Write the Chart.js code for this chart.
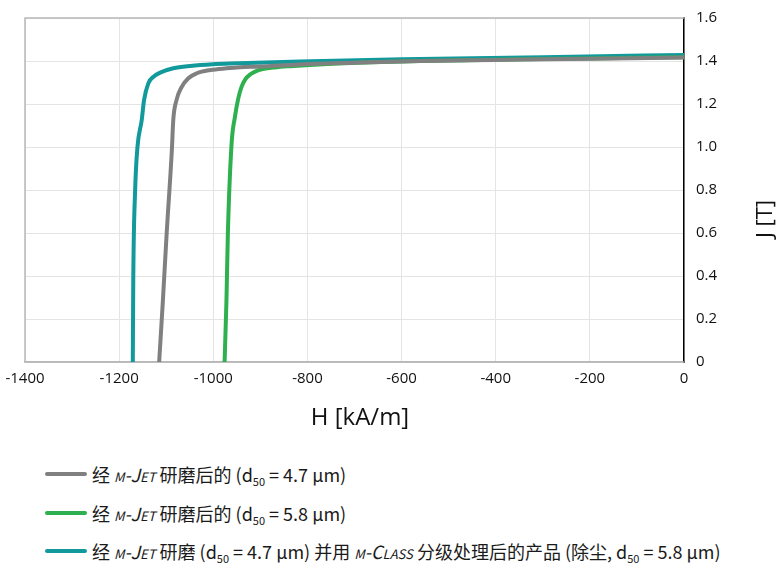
<!DOCTYPE html>
<html>
<head>
<meta charset="utf-8">
<script src="https://cdn.jsdelivr.net/npm/chart.js@4.4.1/dist/chart.umd.min.js"></script>
<style>
  html, body { margin: 0; padding: 0; background: #fff; }
  body { width: 779px; height: 564px; position: relative; overflow: hidden; }
  #wrap { position: absolute; left: 0; top: 0; width: 779px; height: 440px; }
  .leg { position: absolute; left: 45px; height: 24px; display: flex; align-items: center;
         font-family: "Noto Sans CJK SC", "Noto Sans", sans-serif; font-size: 18px; color: #1a1a1a; white-space: nowrap; }
  .sw { width: 42px; height: 4px; border-radius: 2px; margin-right: 5px; }
  .sc { font-style: italic; font-variant: small-caps; }
  sub { font-size: 11px; vertical-align: -4px; line-height: 0; }
</style>
</head>
<body>
<div id="wrap"><canvas id="c"></canvas></div>
<div id="legend"></div>
<script>
// ---- data (H in kA/m, J in T) ----
const xTicks = [-1400, -1200, -1000, -800, -600, -400, -200, 0];
const yTicks = [0, 0.2, 0.4, 0.6, 0.8, 1.0, 1.2, 1.4, 1.6];

const grayH = [-1115, -1107, -1099, -1088, -1085, -1078, -1067, -1053, -1035, -1006, -972, -943, -901, -816, -700, -561, -400, -200, 0];
const grayJ = [0, 0.288, 0.600, 0.986, 1.126, 1.219, 1.280, 1.320, 1.343, 1.358, 1.366, 1.371, 1.374, 1.384, 1.392, 1.400, 1.405, 1.411, 1.416];

const greenH = [-976, -972, -969, -961, -954, -947, -940, -932, -922, -910, -895, -870, -837, -767, -661, -561, -400, -200, 0];
const greenJ = [0, 0.288, 0.600, 1.019, 1.140, 1.225, 1.280, 1.315, 1.337, 1.352, 1.362, 1.370, 1.376, 1.385, 1.394, 1.400, 1.406, 1.412, 1.418];

const tealH = [-1171, -1170, -1166, -1161, -1152, -1147, -1138, -1127, -1113, -1085, -1049, -1001, -950, -816, -561, -300, 0];
const tealJ = [0, 0.381, 0.800, 1.001, 1.126, 1.219, 1.296, 1.327, 1.346, 1.366, 1.377, 1.385, 1.389, 1.398, 1.409, 1.418, 1.428];

const seriesNames = [
  '经 <span class="sc">m-Jet</span> 研磨后的 (d<sub>50</sub> = 4.7 µm)',
  '经 <span class="sc">m-Jet</span> 研磨后的 (d<sub>50</sub> = 5.8 µm)',
  '经 <span class="sc">m-Jet</span> 研磨 (d<sub>50</sub> = 4.7 µm) 并用 <span class="sc">m-Class</span> 分级处理后的产品 (除尘, d<sub>50</sub> = 5.8 µm)'
];
const seriesColors = ['#808080', '#2db04d', '#12999b'];
const xTitle = 'H [kA/m]';
const yTitle = 'J [T]';

function pts(hs, js) { return hs.map((h, i) => ({ x: h, y: js[i] })); }
function noPad(s) { s.paddingLeft = 0; s.paddingRight = 0; s.paddingTop = 0; s.paddingBottom = 0; }

const frame = {
  id: 'frame',
  beforeDatasetsDraw(chart) {
    const { ctx, chartArea: a } = chart;
    ctx.save();
    ctx.strokeStyle = '#b8b8b8';
    ctx.lineWidth = 1.5;
    ctx.beginPath();
    ctx.moveTo(a.right, a.top); ctx.lineTo(a.left, a.top); ctx.lineTo(a.left, a.bottom); ctx.lineTo(a.right, a.bottom);
    ctx.stroke();
    ctx.restore();
  },
  afterDraw(chart) {
    const { ctx } = chart;
    ctx.save();
    ctx.fillStyle = '#111';
    ctx.textAlign = 'center';
    ctx.textBaseline = 'middle';
    ctx.font = '24px "Open Sans"';
    ctx.fillText(xTitle, 360, 418);
    ctx.translate(766, 219);
    ctx.rotate(-Math.PI / 2);
    ctx.font = '22px "Open Sans"';
    ctx.fillText(yTitle, 0, 0);
    ctx.restore();
  }
};

const ds = [[grayH, grayJ], [greenH, greenJ], [tealH, tealJ]].map((d, i) => ({
  label: 's' + i,
  data: pts(d[0], d[1]),
  borderColor: seriesColors[i],
  backgroundColor: seriesColors[i],
  borderWidth: 4,
  pointRadius: 0,
  cubicInterpolationMode: 'monotone',
  borderCapStyle: 'round',
  borderJoinStyle: 'round',
  fill: false
}));

new Chart(document.getElementById('c'), {
  type: 'line',
  data: { datasets: ds },
  options: {
    responsive: true,
    maintainAspectRatio: false,
    animation: false,
    layout: { padding: { left: 25, top: 18, right: 0, bottom: 0 } },
    plugins: { legend: { display: false }, tooltip: { enabled: false } },
    scales: {
      x: {
        type: 'linear', min: xTicks[0], max: xTicks[xTicks.length - 1],
        afterBuildTicks: s => { s.ticks = xTicks.map(v => ({ value: v })); },
        afterFit: s => { s.height = 78; noPad(s); },
        ticks: { font: { family: 'Open Sans', size: 15 }, color: '#111', padding: 8, maxRotation: 0, autoSkip: false,
                 callback: v => String(v) },
        grid: { color: '#e4e4e4', lineWidth: 1, drawTicks: false },
        border: { display: true, color: '#b8b8b8', width: 1.5 },
        title: { display: false }
      },
      y: {
        type: 'linear', position: 'right', min: 0, max: 1.6,
        afterBuildTicks: s => { s.ticks = yTicks.map(v => ({ value: v })); },
        afterFit: s => { s.width = 95; noPad(s); },
        ticks: { font: { family: 'Open Sans', size: 15 }, color: '#111', padding: 12,
                 callback: v => (v === 0 ? '0' : v.toFixed(1)) },
        grid: { color: '#e4e4e4', lineWidth: 1, drawTicks: false },
        border: { display: true, color: '#000', width: 1.5 }
      }
    }
  },
  plugins: [frame]
});

const legendTops = [462, 501, 539];
const lg = document.getElementById('legend');
seriesNames.forEach((n, i) => {
  const d = document.createElement('div');
  d.className = 'leg';
  d.style.top = legendTops[i] + 'px';
  d.innerHTML = '<span class="sw" style="background:' + seriesColors[i] + '"></span><span>' + n + '</span>';
  lg.appendChild(d);
});
</script>
</body>
</html>
